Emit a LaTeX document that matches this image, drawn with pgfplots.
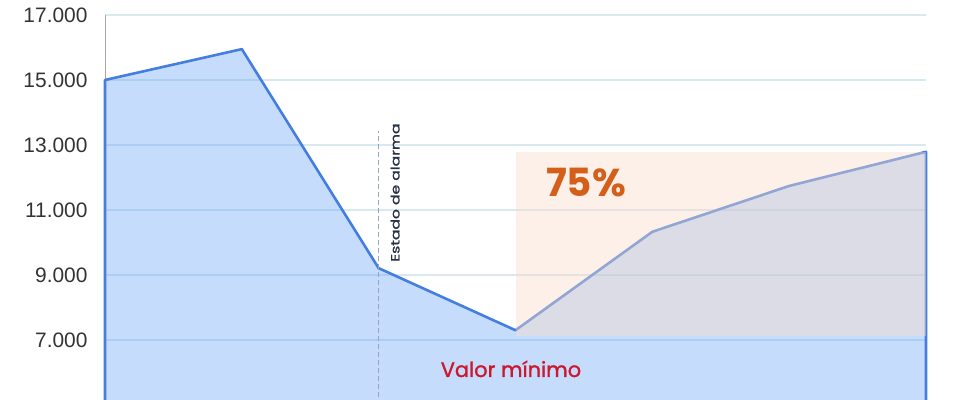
\documentclass[border=0pt]{standalone}
\usepackage{pgfplots}
\pgfplotsset{compat=1.18}
\usepackage{fontspec}
\setmainfont{Liberation Sans}
\newfontfamily\pop{Poppins}
\newfontfamily\popm{Poppins}[UprightFeatures={FakeBold=1.3}]

\definecolor{lineblue}{RGB}{68,126,222}
\definecolor{fillblue}{RGB}{100,160,248}
\definecolor{gridcol}{RGB}{218,232,240}
\definecolor{warm}{RGB}{250,220,201}
\definecolor{dashcol}{RGB}{150,166,188}
\definecolor{pct}{RGB}{211,95,26}
\definecolor{minred}{RGB}{204,24,44}
\definecolor{navy}{RGB}{40,48,70}

\begin{document}
\begin{tikzpicture}
\begin{axis}[
  scale only axis,
  width=821bp, height=385bp,
  xmin=0, xmax=6,
  ymin=5154, ymax=17000,
  clip=false,
  axis x line=none,
  axis y line*=left,
  y axis line style={draw=black!35, line width=0.6bp},
  scaled y ticks=false,
  ytick={7000,9000,11000,13000,15000,17000},
  yticklabels={7.000,9.000,11.000,13.000,15.000,17.000},
  yticklabel style={font=\fontsize{21}{24}\selectfont, text=black!80},
  major tick length=0pt,
  ymajorgrids,
  grid style={draw=gridcol, line width=1.2bp},
  y tick label style={xshift=-14bp},
]
% area under the series
\addplot[draw=lineblue, line width=2.6bp, fill=fillblue, fill opacity=0.37,
  line join=round]
  coordinates {
    (0,4000) (0,15000) (1,15950) (2,9210) (3,7300)
    (4,10330) (5,11740) (6,12790) (6,4000)
  } -- cycle;
% recovery band
\addplot[draw=none, fill=warm, fill opacity=0.43]
  coordinates {(3,7120) (3,12790) (6,12790) (6,7120)} -- cycle;
% alarm marker
\addplot[draw=dashcol, line width=1.6bp, dash pattern=on 5bp off 3bp]
  coordinates {(2,5000) (2,13440)};

\node[rotate=90, anchor=west, inner sep=0pt, text=navy]
  at (axis cs:2.12,9400) {\scalebox{1.3}[1]{\popm\fontsize{12}{14}\selectfont Estado de alarma}};
\node[anchor=base, inner sep=0pt, text=pct]
  at (axis cs:3.515,11400) {\pop\bfseries\fontsize{39}{42}\selectfont 75\%};
\node[anchor=base, inner sep=0pt, text=minred]
  at (axis cs:2.967,5862) {\popm\fontsize{21}{24}\selectfont Valor mínimo};

\coordinate (bl) at (rel axis cs:0,0);
\coordinate (tr) at (rel axis cs:1,1);
\end{axis}
\pgfresetboundingbox
\path[use as bounding box] ([xshift=-105bp]bl) rectangle ([xshift=52bp,yshift=15bp]tr);
\end{tikzpicture}
\end{document}
